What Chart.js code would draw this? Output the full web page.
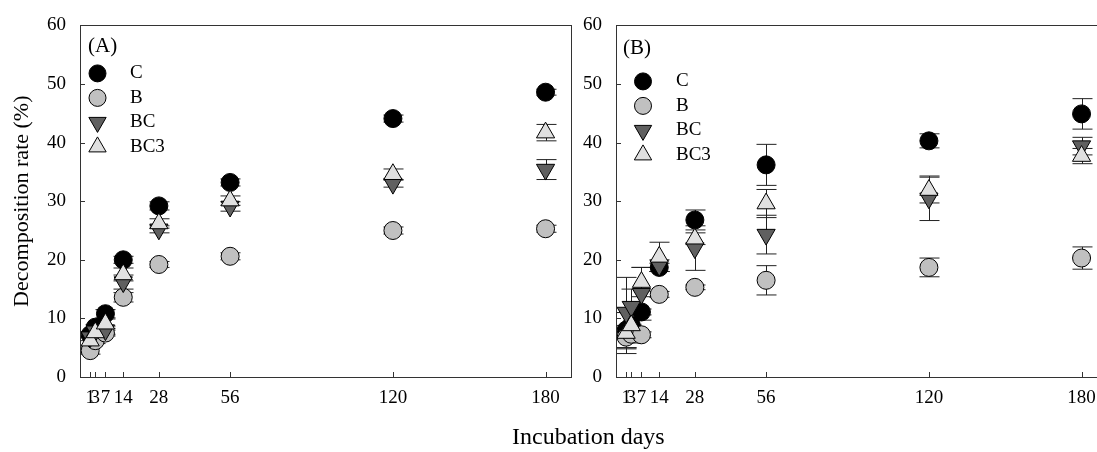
<!DOCTYPE html>
<html>
<head>
<meta charset="utf-8">
<script src="https://cdn.jsdelivr.net/npm/chart.js@4.4.0/dist/chart.umd.min.js"></script>
<style>
  html, body { margin: 0; padding: 0; background: #fff; width: 1097px; height: 452px; overflow: hidden; position: relative; }
  #wrapA { position: absolute; left: 0; top: 0; width: 600px; height: 452px; }
  #wrapB { position: absolute; left: 540px; top: 0; width: 600px; height: 452px; }
  #xtitle { position: absolute; left: 512px; top: 423px; white-space: nowrap;
            font-family: "Liberation Serif", serif; font-size: 24px; color: #000; }
</style>
</head>
<body>
<div id="wrapA"><canvas id="chartA"></canvas></div>
<div id="wrapB"><canvas id="chartB"></canvas></div>
<div id="xtitle">Incubation days</div>
<script>
// --- data ---
const days = [1, 3, 7, 14, 28, 56, 120, 180];
const xTicks = [1, 3, 7, 14, 28, 56, 120, 180];
const seriesNames = ['C', 'B', 'BC', 'BC3'];

// panel A means and errors
const aC = [7.2, 8.5, 10.8, 20.0, 29.2, 33.2, 44.1, 48.6];
const aB = [4.5, 6.2, 7.5, 13.6, 19.2, 20.6, 25.0, 25.3];
const aBC = [6.8, 7.8, 8.0, 16.2, 25.2, 29.1, 33.0, 35.4];
const aBC3 = [6.2, 7.6, 9.1, 17.5, 26.2, 30.1, 34.6, 41.7];
const aCErr = [0.5, 0.4, 0.7, 0.6, 0.7, 0.6, 0.6, 0.5];
const aBErr = [0.6, 0.5, 0.5, 0.8, 0.5, 0.6, 0.6, 0.6];
const aBCErr = [0.6, 0.6, 0.7, 1.2, 0.6, 0.8, 0.6, 1.7];
const aBC3Err = [0.8, 0.6, 0.8, 1.1, 0.8, 0.8, 0.9, 1.4];

// panel B means and errors
const bC = [8.0, 8.8, 11.1, 18.7, 26.8, 36.2, 40.3, 44.9];
const bB = [6.8, 7.3, 7.2, 14.1, 15.3, 16.5, 18.7, 20.3];
const bBC = [11.0, 12.0, 14.2, 19.0, 22.0, 24.3, 30.5, 39.4];
const bBC3 = [7.5, 8.8, 16.2, 20.5, 23.6, 29.6, 31.9, 37.7];
const bCErr = [3.0, 2.0, 0.5, 0.7, 1.7, 3.5, 1.2, 2.6];
const bBErr = [2.0, 1.5, 0.5, 0.5, 0.4, 2.5, 1.6, 1.9];
const bBCErr = [6.0, 3.0, 4.5, 1.0, 3.8, 3.3, 3.8, 1.5];
const bBC3Err = [3.5, 2.5, 2.5, 2.5, 1.0, 2.4, 2.2, 1.3];

// --- styles per series ---
const fills = ['#000000', '#c0c0c0', '#606060', '#e0e0e0'];
const shapes = ['circle', 'circle', 'triangle', 'triangle'];
const rotations = [0, 0, 180, 0];
const radii = [9, 9, 10.5, 10.5];
const FONT = 'Liberation Serif';

function drawShape(ctx, shape, x, y, r, rot, fill) {
  ctx.save();
  ctx.fillStyle = fill;
  ctx.strokeStyle = '#000';
  ctx.lineWidth = 1;
  ctx.beginPath();
  if (shape === 'circle') {
    ctx.arc(x, y, r, 0, Math.PI * 2);
  } else {
    let a = rot * Math.PI / 180;
    ctx.moveTo(x + Math.sin(a) * r, y - Math.cos(a) * r);
    a += 2 * Math.PI / 3;
    ctx.lineTo(x + Math.sin(a) * r, y - Math.cos(a) * r);
    a += 2 * Math.PI / 3;
    ctx.lineTo(x + Math.sin(a) * r, y - Math.cos(a) * r);
    ctx.closePath();
  }
  ctx.fill();
  ctx.stroke();
  ctx.restore();
}

// error bars behind the symbols
const errorBars = {
  id: 'errorBars',
  beforeDatasetsDraw(chart) {
    const ctx = chart.ctx, ys = chart.scales.y, xs = chart.scales.x;
    ctx.save();
    ctx.strokeStyle = '#222';
    ctx.lineWidth = 1;
    chart.data.datasets.forEach(ds => {
      ds.data.forEach((p, i) => {
        const e = ds.errors[i];
        const x = Math.round(xs.getPixelForValue(p.x)) + 0.5;
        const y1 = ys.getPixelForValue(p.y + e);
        const y2 = ys.getPixelForValue(p.y - e);
        ctx.beginPath();
        ctx.moveTo(x, y1); ctx.lineTo(x, y2);
        ctx.moveTo(x - 10, y1); ctx.lineTo(x + 10, y1);
        ctx.moveTo(x - 10, y2); ctx.lineTo(x + 10, y2);
        ctx.stroke();
      });
    });
    ctx.restore();
  }
};

// frame, inward ticks, panel legend
const frame = {
  id: 'frame',
  afterDraw(chart, args, opts) {
    const ctx = chart.ctx, a = chart.chartArea, xs = chart.scales.x, ys = chart.scales.y;
    ctx.save();
    ctx.strokeStyle = '#333';
    ctx.lineWidth = 1;
    ctx.strokeRect(Math.round(a.left) + 0.5, Math.round(a.top) + 0.5,
                   Math.round(a.right - a.left), Math.round(a.bottom - a.top));
    ctx.beginPath();
    xTicks.forEach(v => {
      const x = Math.round(xs.getPixelForValue(v)) + 0.5;
      ctx.moveTo(x, a.bottom); ctx.lineTo(x, a.bottom - 5);
    });
    ys.ticks.forEach(t => {
      const y = Math.round(ys.getPixelForValue(t.value)) + 0.5;
      ctx.moveTo(a.left, y); ctx.lineTo(a.left + 5, y);
    });
    ctx.stroke();

    ctx.fillStyle = '#000';
    ctx.font = '21px "' + FONT + '"';
    ctx.textBaseline = 'middle';
    ctx.fillText(opts.title, a.left + opts.titleX, a.top + opts.titleY);
    ctx.font = '19px "' + FONT + '"';
    chart.data.datasets.forEach((ds, i) => {
      const y = a.top + opts.rowY + i * opts.rowGap;
      drawShape(ctx, shapes[i], a.left + opts.symX, y, radii[i] - 0.5, rotations[i], fills[i]);
      ctx.fillStyle = '#000';
      ctx.fillText(ds.label, a.left + opts.textX, y);
    });
    ctx.restore();
  }
};

function makeChart(id, means, errs, legendOpts, yWidth, padRight, withTitle) {
  const datasets = seriesNames.map((name, i) => ({
    label: name,
    data: days.map((d, j) => ({ x: d, y: means[i][j] })),
    errors: errs[i],
    pointStyle: shapes[i],
    pointRotation: rotations[i],
    pointRadius: radii[i],
    pointHoverRadius: radii[i],
    pointBackgroundColor: fills[i],
    pointBorderColor: '#000',
    pointBorderWidth: 1,
    showLine: false,
    order: 3 - i
  }));
  return new Chart(document.getElementById(id), {
    type: 'scatter',
    data: { datasets },
    plugins: [errorBars, frame],
    options: {
      animation: false,
      responsive: true,
      maintainAspectRatio: false,
      layout: { padding: { top: 22, right: padRight, left: 0, bottom: 0 } },
      plugins: {
        legend: { display: false },
        tooltip: { enabled: false },
        frame: legendOpts
      },
      scales: {
        x: {
          type: 'linear', min: -3, max: 190,
          grid: { display: false, drawTicks: false },
          border: { display: false },
          afterBuildTicks: s => { s.ticks = xTicks.map(v => ({ value: v })); },
          afterFit: s => { s.height = 75; },
          ticks: { autoSkip: false, maxRotation: 0, padding: 10, color: '#000',
                   font: { family: FONT, size: 19 } }
        },
        y: {
          min: 0, max: 60,
          grid: { display: false, drawTicks: false },
          border: { display: false },
          afterFit: s => { s.width = yWidth; },
          ticks: { stepSize: 10, padding: 14, color: '#000', font: { family: FONT, size: 19 } },
          title: { display: withTitle, text: 'Decomposition rate (%)', color: '#000',
                   font: { family: FONT, size: 22 }, padding: { top: 9, bottom: 0 } }
        }
      }
    }
  });
}

makeChart('chartA', [aC, aB, aBC, aBC3], [aCErr, aBErr, aBCErr, aBC3Err],
  { title: '(A)', titleX: 8, titleY: 21, symX: 17.5, textX: 50, rowY: 48, rowGap: 24.5 },
  80, 29, true);
makeChart('chartB', [bC, bB, bBC, bBC3], [bCErr, bBErr, bBCErr, bBC3Err],
  { title: '(B)', titleX: 7, titleY: 23, symX: 27, textX: 60, rowY: 56, rowGap: 24.5 },
  76, 33, false);
</script>
</body>
</html>
